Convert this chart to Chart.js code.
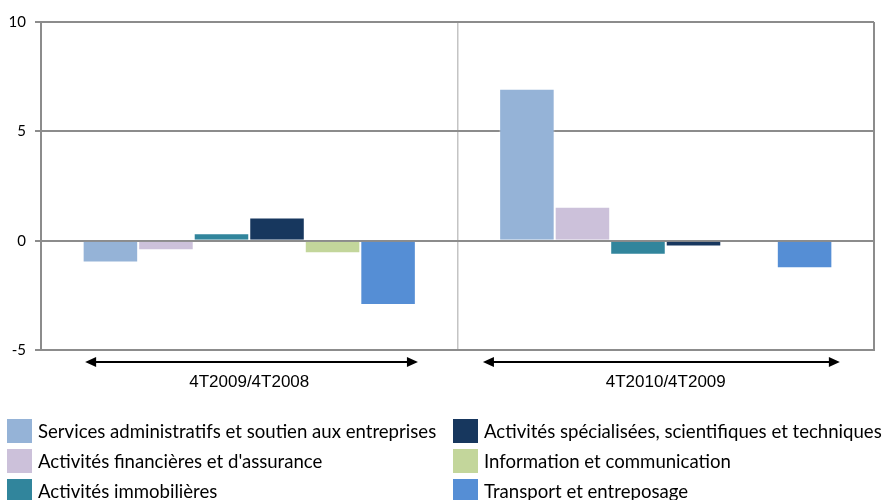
<!DOCTYPE html>
<html>
<head>
<meta charset="utf-8">
<script src="https://cdn.jsdelivr.net/npm/chart.js@4/dist/chart.umd.min.js"></script>
<style>
  html, body { margin: 0; padding: 0; background: #fff; }
  #wrap { position: relative; width: 882px; height: 500px; overflow: hidden; }
  #legend { position: absolute; left: 0; top: 0; width: 882px; height: 500px; pointer-events: none; }
  .item { position: absolute; height: 24px; display: flex; align-items: center; font-family: Lato, sans-serif; font-size: 18.6px; color: #000; white-space: nowrap; }
  .box { width: 25px; height: 24px; margin-right: 6px; flex: none; }
</style>
</head>
<body>
<div id="wrap">
  <canvas id="c"></canvas>
  <div id="legend"></div>
</div>
<script>
// ---- data ----
const categories = ['4T2009/4T2008', '4T2010/4T2009'];
const seriesLabels = [
  'Services administratifs et soutien aux entreprises',
  'Activités financières et d\'assurance',
  'Activités immobilières',
  'Activités spécialisées, scientifiques et techniques',
  'Information et communication',
  'Transport et entreposage'
];
const services      = [-1.0, 6.95];
const financieres   = [-0.44, 1.55];
const immobilieres  = [0.34, -0.64];
const specialisees  = [1.06, -0.27];
const information   = [-0.57, 0];
const transport     = [-2.94, -1.26];
const yTicks = [-5, 0, 5, 10];

// ---- styles ----
const colors = ['#95b3d7', '#ccc1da', '#31859c', '#17375e', '#c3d69b', '#558ed5'];
const seriesValues = [services, financieres, immobilieres, specialisees, information, transport];
// arrow extents below each category, as fractions of the category width
const arrowSpans = [[0.106, 0.905], [0.061, 0.918]];

const arrowPlugin = {
  id: 'arrows',
  afterDraw(chart) {
    const ctx = chart.ctx;
    const x = chart.scales.x;
    const area = chart.chartArea;
    const catW = (area.right - area.left) / categories.length;
    const y = area.bottom + 12;
    ctx.save();
    ctx.strokeStyle = '#000';
    ctx.fillStyle = '#000';
    ctx.lineWidth = 2;
    categories.forEach((c, i) => {
      const start = x.getPixelForValue(i) - catW / 2;
      const x1 = start + arrowSpans[i][0] * catW;
      const x2 = start + arrowSpans[i][1] * catW;
      const head = 11, hh = 5;
      ctx.beginPath();
      ctx.moveTo(x1 + head - 2, y);
      ctx.lineTo(x2 - head + 2, y);
      ctx.stroke();
      ctx.beginPath();
      ctx.moveTo(x1, y); ctx.lineTo(x1 + head, y - hh); ctx.lineTo(x1 + head, y + hh); ctx.closePath(); ctx.fill();
      ctx.beginPath();
      ctx.moveTo(x2, y); ctx.lineTo(x2 - head, y - hh); ctx.lineTo(x2 - head, y + hh); ctx.closePath(); ctx.fill();
    });
    ctx.restore();
  }
};

const chart = new Chart(document.getElementById('c'), {
  type: 'bar',
  data: {
    labels: categories,
    datasets: seriesLabels.map((l, i) => ({
      label: l,
      data: seriesValues[i],
      backgroundColor: colors[i],
      borderColor: 'rgba(255,255,255,0.3)',
      borderWidth: 1,
      categoryPercentage: 0.8,
      barPercentage: 1.0
    }))
  },
  options: {
    responsive: true,
    maintainAspectRatio: false,
    animation: false,
    layout: { padding: { top: 22, right: 8, left: 0, bottom: 0 } },
    plugins: { legend: { display: false }, tooltip: { enabled: false } },
    scales: {
      x: {
        afterFit(s) { s.height = 150; },
        grid: {
          offset: true,
          drawTicks: false,
          color: (ctx) => ctx.index === 1 ? '#c4c4c4' : '#8c8c8c',
          lineWidth: (ctx) => ctx.index === 1 ? 1.5 : 2
        },
        border: { display: true, color: '#8c8c8c', width: 2 },
        ticks: { color: '#000', padding: 22, font: { family: '"Liberation Sans", Arial, sans-serif', size: 17 } }
      },
      y: {
        min: -5, max: 10,
        afterFit(s) { s.width = 41; },
        afterBuildTicks(s) { s.ticks = yTicks.map(v => ({ value: v })); },
        grid: { color: '#8c8c8c', lineWidth: 2, tickLength: 6, drawTicks: true },
        border: { display: true, color: '#8c8c8c', width: 2 },
        ticks: { color: '#000', padding: 9, font: { family: 'Lato, sans-serif', size: 15 } }
      }
    }
  },
  plugins: [arrowPlugin]
});

// ---- legend (two columns, column-major) ----
const legend = document.getElementById('legend');
const items = chart.options.plugins.legend.labels.generateLabels(chart);
items.forEach((it, i) => {
  const col = Math.floor(i / 3), row = i % 3;
  const d = document.createElement('div');
  d.className = 'item';
  d.style.left = (col === 0 ? 7 : 453) + 'px';
  d.style.top = (419 + row * 30) + 'px';
  const b = document.createElement('span');
  b.className = 'box';
  b.style.background = colors[it.datasetIndex];
  const t = document.createElement('span');
  t.textContent = it.text;
  d.appendChild(b); d.appendChild(t);
  legend.appendChild(d);
});
</script>
</body>
</html>
